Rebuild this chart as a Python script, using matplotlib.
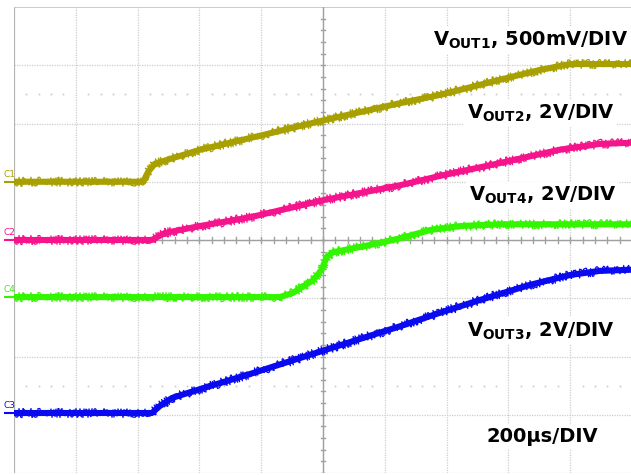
import matplotlib
matplotlib.use('Agg')
import matplotlib.pyplot as plt

plt.rcParams['mathtext.fontset'] = 'dejavusans'

# trace points, in scope divisions (x: 0..10, y: 0..8)
c1_x = [0, 2.04, 2.09, 2.17, 2.28, 3.01, 3.98, 5.03, 6.25, 6.89, 7.86, 8.51, 9.0, 10.0]
c1_y = [5.0, 5.0, 5.0, 5.17, 5.31, 5.55, 5.79, 6.06, 6.35, 6.49, 6.75, 6.92, 7.02, 7.02]

c2_x = [0, 2.23, 2.44, 3.01, 3.82, 5.03, 6.25, 6.89, 7.86, 8.83, 9.48, 10.0]
c2_y = [4.0, 4.0, 4.12, 4.24, 4.39, 4.69, 4.94, 5.10, 5.32, 5.55, 5.65, 5.67]

c4_x = [0, 4.30, 4.51, 4.84, 4.98, 5.06, 5.16, 5.60, 5.92, 6.25, 6.73, 7.22, 7.86, 10.0]
c4_y = [3.02, 3.02, 3.09, 3.31, 3.49, 3.71, 3.79, 3.88, 3.95, 4.03, 4.17, 4.24, 4.27, 4.27]

c3_x = [0, 2.23, 2.36, 2.56, 3.01, 3.82, 5.03, 6.25, 6.89, 7.54, 8.35, 9.0, 9.48, 10.0]
c3_y = [1.03, 1.03, 1.15, 1.29, 1.44, 1.70, 2.11, 2.52, 2.75, 2.97, 3.23, 3.40, 3.47, 3.49]

traces = [
    ('C1', c1_x, c1_y, '#a8a000'),
    ('C2', c2_x, c2_y, '#f5148c'),
    ('C4', c4_x, c4_y, '#33f500'),
    ('C3', c3_x, c3_y, '#0a0af0'),
]

labels = [
    (r'$\mathbf{V}_{\mathbf{OUT1}}$, 500mV/DIV', 6.78, 7.43),
    (r'$\mathbf{V}_{\mathbf{OUT2}}$, 2V/DIV', 7.33, 6.18),
    (r'$\mathbf{V}_{\mathbf{OUT4}}$, 2V/DIV', 7.36, 4.77),
    (r'$\mathbf{V}_{\mathbf{OUT3}}$, 2V/DIV', 7.33, 2.44),
    ('200\u00b5s/DIV', 7.64, 0.62),
]

fig = plt.figure(figsize=(6.31, 4.75), dpi=100)
ax = fig.add_axes([14/631, 2/475, 618/631, 466/475])
ax.set_xlim(0, 10)
ax.set_ylim(0, 8)
ax.axis('off')

grid_col = '#cdcdcd'
for i in range(1, 10):
    ax.axvline(i, color=grid_col, lw=0.9, ls=(0, (1, 1)), zorder=1)
for j in range(1, 8):
    ax.axhline(j, color=grid_col, lw=0.9, ls=(0, (1, 1)), zorder=1)
ax.axhline(0, color=grid_col, lw=0.9, ls=(0, (1, 1)), zorder=1)

# frame (left and top are solid)
ax.axvline(0, color='#b4b4b4', lw=1.6, zorder=2)
ax.axhline(8, color='#c4c4c4', lw=1.2, zorder=2)

# centre axes with minor ticks
ax.axhline(4, color='#a0a0a0', lw=1, zorder=2)
ax.axvline(5, color='#a0a0a0', lw=1, zorder=2)
for k in range(50):
    t = k * 0.2
    ax.plot([t, t], [3.955, 4.045], color='#a0a0a0', lw=1, zorder=2)
for k in range(40):
    t = k * 0.2
    ax.plot([4.96, 5.04], [t, t], color='#a0a0a0', lw=1, zorder=2)

# dotted rows
dot_x = [k * 0.2 for k in range(50) if k % 5 != 0]
for row in [6.5, 1.5]:
    ax.plot(dot_x, [row] * len(dot_x), ls='none', marker='s', ms=1.2,
            color='#c8c8c8', mec='none', zorder=1)

for name, xs, ys, col in traces:
    ax.plot(xs, ys, color=col, lw=4.4, solid_capstyle='butt', zorder=5)
    spiky, = ax.plot(xs, ys, color=col, lw=0.9, zorder=5)
    spiky.set_sketch_params(scale=4.5, length=0.5, randomness=2)
    ax.plot([-0.15, 0], [ys[0], ys[0]], color=col, lw=1.5, clip_on=False)
    ax.text(-0.17, ys[0] + 0.05, name, color=col, fontsize=6.5,
            ha='left', va='bottom', clip_on=False)

for txt, x, y in labels:
    ax.text(x, y, txt, fontsize=14, fontweight='bold', ha='left', va='center',
            zorder=8, bbox=dict(facecolor='white', edgecolor='none', pad=2))

fig.savefig('out.png', dpi=100)
